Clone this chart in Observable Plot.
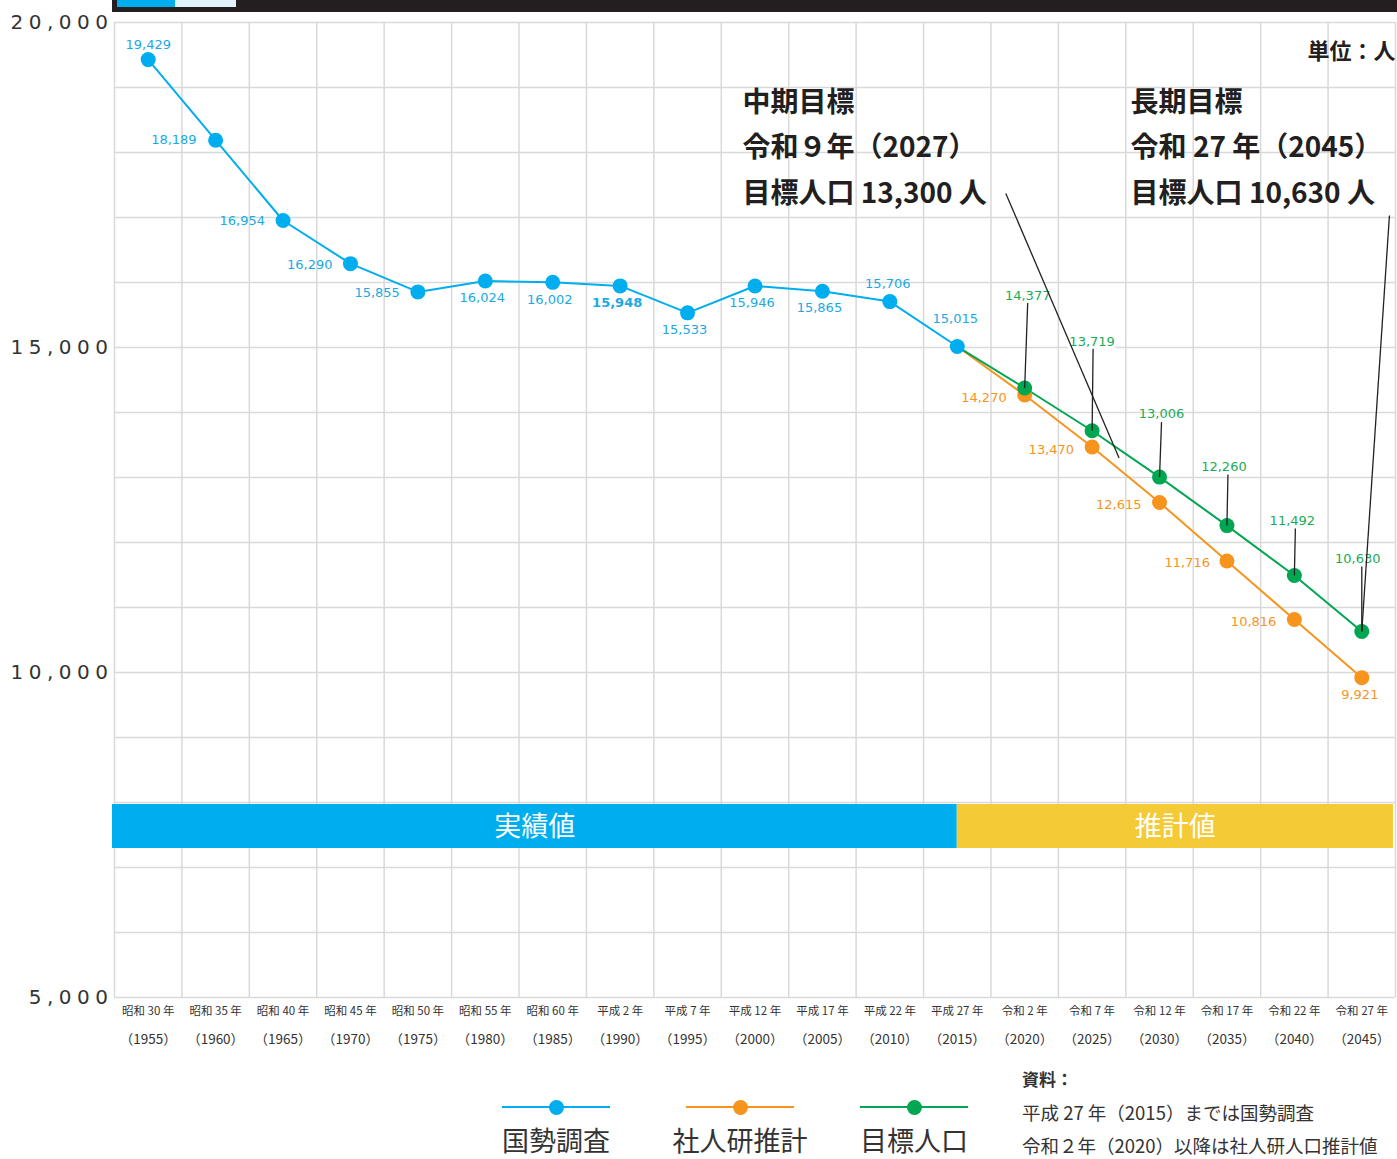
<!DOCTYPE html>
<html><head><meta charset="utf-8">
<script src="https://cdn.jsdelivr.net/npm/d3@7"></script>
<script src="https://cdn.jsdelivr.net/npm/@observablehq/plot@0.6"></script>
<style>
body{margin:0;background:#fff;}
#wrap{position:relative;width:1397px;height:1159px;overflow:hidden;font-family:"Noto Sans CJK JP",sans-serif;color:#333;}
#wrap svg{position:absolute;left:0;top:0;}
.topbar{position:absolute;left:112px;top:0;width:1285px;height:12px;background:#231f20;}
.topbar .a{position:absolute;left:5px;top:0;width:58px;height:7px;background:#00aeef;}
.topbar .b{position:absolute;left:63px;top:0;width:61px;height:7px;background:#e1f4fd;}
.lg{position:absolute;}
.lg .ln{position:absolute;left:0;top:-1px;width:108px;height:2px;}
.lg .dt{position:absolute;left:47px;top:-7.5px;width:15px;height:15px;border-radius:50%;}
.lg .tx{position:absolute;left:-60px;width:228px;top:19px;text-align:center;font-size:27px;line-height:28px;color:#333;}
.src{position:absolute;left:1022px;font-size:18.5px;line-height:20px;color:#333;white-space:nowrap;}
</style></head><body><div id="wrap"></div><script>
// ---- data ----
const years = [1955,1960,1965,1970,1975,1980,1985,1990,1995,2000,2005,2010,2015,2020,2025,2030,2035,2040,2045];
const eraLabels = ["昭和 30 年","昭和 35 年","昭和 40 年","昭和 45 年","昭和 50 年","昭和 55 年","昭和 60 年","平成 2 年","平成 7 年","平成 12 年","平成 17 年","平成 22 年","平成 27 年","令和 2 年","令和 7 年","令和 12 年","令和 17 年","令和 22 年","令和 27 年"];
const censusYears = [1955,1960,1965,1970,1975,1980,1985,1990,1995,2000,2005,2010,2015];
const censusValues = [19429,18189,16954,16290,15855,16024,16002,15948,15533,15946,15865,15706,15015];
const projYears = [2015,2020,2025,2030,2035,2040,2045];
const ipssValues = [15015,14270,13470,12615,11716,10816,9921];
const targetValues = [15015,14377,13719,13006,12260,11492,10630];
const seriesNames = ["国勢調査","社人研推計","目標人口"];
const seriesColors = ["#00aeef","#f7941d","#00a651"];
const labelColors = ["#1aa9e4","#f7941d","#1aab55"];
const yTicks = [5000,10000,15000,20000];
const bandLabels = ["実績値","推計値"];
const bandColors = ["#00aeef","#f4ca36"];

// ---- layout constants ----
const W = 1397, H = 1060, mL = 114, mR = 2, mT = 22, mB = 63;
const xDom = [1952.5, 2047.5], yDom = [5000, 20000];
const pxPerYear = (W - mL - mR) / (xDom[1] - xDom[0]);
const pxPerUnit = (H - mT - mB) / (yDom[1] - yDom[0]);

const census = censusYears.map((y,i)=>({year:y, value:censusValues[i]}));
const ipss = projYears.map((y,i)=>({year:y, value:ipssValues[i]}));
const target = projYears.map((y,i)=>({year:y, value:targetValues[i]}));

// label placement (pixels): [anchor, dx, dy]
const censusPlace = [["middle",0,-15],["end",-19,0],["end",-18,0],["end",-18,1],["end",-18,1],["middle",-3,17],["middle",-3,17],["middle",-3,17],["middle",-3,17],["middle",-3,17],["middle",-3,17],["middle",-2,-18],["middle",-2,-28]];
const ipssPlace = [null,["end",-18,3],["end",-18,3],["end",-18,2],["end",-17,2],["end",-18,2],["middle",-2,17]];
const targetPlace = [null,[3,-92],[0,-89],[2,-63],[-3,-59],[-2,-55],[-4,-73]];
const targetLeader = [null,[3,-85],[1,-82],[2,-55],[1,-51],[1,-47],[0,-65]];

const numFmt = d3.format(",");
const numFont = '"DejaVu Sans", Verdana, sans-serif';
const jpFont = '"Noto Sans CJK JP", sans-serif';

const labelMarks = [];
census.forEach((d,i)=>{
  const [a,dx,dy] = censusPlace[i];
  labelMarks.push(Plot.text([d], {x:"year", y:"value", text:dd=>numFmt(dd.value), textAnchor:a, dx, dy,
    fill:labelColors[0], fontSize:13, fontFamily:numFont, fontWeight: d.year===1990 ? "bold" : "normal"}));
});
ipss.forEach((d,i)=>{
  if (!ipssPlace[i]) return;
  const [a,dx,dy] = ipssPlace[i];
  labelMarks.push(Plot.text([d], {x:"year", y:"value", text:dd=>numFmt(dd.value), textAnchor:a, dx, dy,
    fill:labelColors[1], fontSize:13, fontFamily:numFont}));
});
const leaders = [];
target.forEach((d,i)=>{
  if (!targetPlace[i]) return;
  const [dx,dy] = targetPlace[i];
  labelMarks.push(Plot.text([d], {x:"year", y:"value", text:dd=>numFmt(dd.value), textAnchor:"middle", dx, dy,
    fill:labelColors[2], fontSize:13, fontFamily:numFont,
    stroke: d.year===2025 ? "white" : undefined, strokeWidth: d.year===2025 ? 7 : undefined}));
  const [lx,ly] = targetLeader[i];
  leaders.push({x1:d.year, y1:d.value, x2:d.year + lx/pxPerYear, y2:d.value - ly/pxPerUnit});
});

// annotations (data coordinates)
const notes = [
  {x:1999.07, y:18154, text:"中期目標\n令和９年（2027）\n目標人口 13,300 人", lx1:2018.6, ly1:17370, lx2:2027, ly2:13300},
  {x:2027.85, y:18154, text:"長期目標\n令和 27 年（2045）\n目標人口 10,630 人", lx1:2047.05, ly1:17030, lx2:2045, ly2:10630}
];
const bands = [
  {x1:1952.35, x2:2015, label:bandLabels[0], fill:bandColors[0]},
  {x1:2015, x2:2047.35, label:bandLabels[1], fill:bandColors[1]}
];

const gridX = d3.range(0,20).map(i=>xDom[0]+5*i);
const gridY = d3.range(5000,20001,1000);

const plot = Plot.plot({
  width:W, height:H, marginLeft:mL, marginRight:mR, marginTop:mT, marginBottom:mB,
  x:{type:"linear", domain:xDom, axis:null},
  y:{domain:yDom},
  style:{fontFamily:numFont, background:"transparent", overflow:"visible"},
  marks:[
    Plot.ruleY(gridY, {stroke:"#d9d9d9", strokeWidth:1.5}),
    Plot.ruleX(gridX, {stroke:"#d9d9d9", strokeWidth:1.5}),
    Plot.axisY(yTicks, {tickSize:0, tickPadding:1, fontSize:20, tickFormat:numFmt, color:"#333"}),
    Plot.text(years, {x:d=>d, text:(d,i)=>eraLabels[i], frameAnchor:"bottom", dy:17, fontSize:11.5, fontFamily:jpFont, fill:"#333"}),
    Plot.text(years, {x:d=>d, text:d=>"（"+d+"）", frameAnchor:"bottom", dy:46, fontSize:13.5, fontFamily:jpFont, fill:"#333", ariaLabel:"year-label"}),
    Plot.rect(bands, {x1:"x1", x2:"x2", y1:7292, y2:7969, fill:"fill"}),
    Plot.text(bands, {x:d=>(d.x1+d.x2)/2, y:7615, text:"label", fill:"white", fontSize:27, fontFamily:jpFont}),
    Plot.line(ipss, {x:"year", y:"value", stroke:seriesColors[1], strokeWidth:2}),
    Plot.line(target, {x:"year", y:"value", stroke:seriesColors[2], strokeWidth:2}),
    Plot.line(census, {x:"year", y:"value", stroke:seriesColors[0], strokeWidth:2}),
    Plot.dot(ipss.slice(1), {x:"year", y:"value", r:7.5, fill:seriesColors[1]}),
    Plot.dot(target.slice(1), {x:"year", y:"value", r:7.5, fill:seriesColors[2]}),
    Plot.dot(census, {x:"year", y:"value", r:7.5, fill:seriesColors[0]}),
    ...labelMarks,
    Plot.link(leaders, {x1:"x1", y1:"y1", x2:"x2", y2:"y2", stroke:"#222", strokeWidth:1.3}),
    Plot.link(notes, {x1:"lx1", y1:"ly1", x2:"lx2", y2:"ly2", stroke:"#222", strokeWidth:1.3}),
    Plot.text(notes, {x:"x", y:"y", text:"text", textAnchor:"start", lineAnchor:"middle", lineHeight:1.625,
      fontSize:28, fontWeight:"bold", fontFamily:jpFont, fill:"#231f20"}),
    Plot.text(["単位：人"], {x:xDom[1], y:19554, text:d=>d, textAnchor:"end", fontSize:22, fontWeight:"bold", fontFamily:jpFont, fill:"#231f20"})
  ]
});

const wrap = document.getElementById("wrap");
wrap.appendChild(plot);
plot.querySelectorAll('g[aria-label="y-axis tick label"] text').forEach(t=>{ t.style.letterSpacing="5.5px"; });
plot.querySelectorAll('g[aria-label="year-label"] text').forEach(t=>{ t.style.fontFeatureSettings='"palt"'; });

// top header strip
const tb = document.createElement("div"); tb.className="topbar";
tb.innerHTML='<div class="a"></div><div class="b"></div>';
wrap.appendChild(tb);

// legend
const legendX = [502, 686, 860];
seriesNames.forEach((name,i)=>{
  const g = document.createElement("div"); g.className="lg";
  g.style.left = legendX[i]+"px"; g.style.top = "1107px";
  g.innerHTML = `<div class="ln" style="background:${seriesColors[i]}"></div><div class="dt" style="background:${seriesColors[i]}"></div><div class="tx">${name}</div>`;
  wrap.appendChild(g);
});
// source note
const srcLines = [["資料：",1079,true],["平成 27 年（2015）までは国勢調査",1112,false],["令和２年（2020）以降は社人研人口推計値",1145,false]];
srcLines.forEach(([t,y,b])=>{
  const s = document.createElement("div"); s.className="src";
  s.textContent = t; s.style.top = (y-10)+"px";
  if (b) { s.style.fontWeight="bold"; s.style.fontSize="17px"; }
  wrap.appendChild(s);
});
</script></body></html>
